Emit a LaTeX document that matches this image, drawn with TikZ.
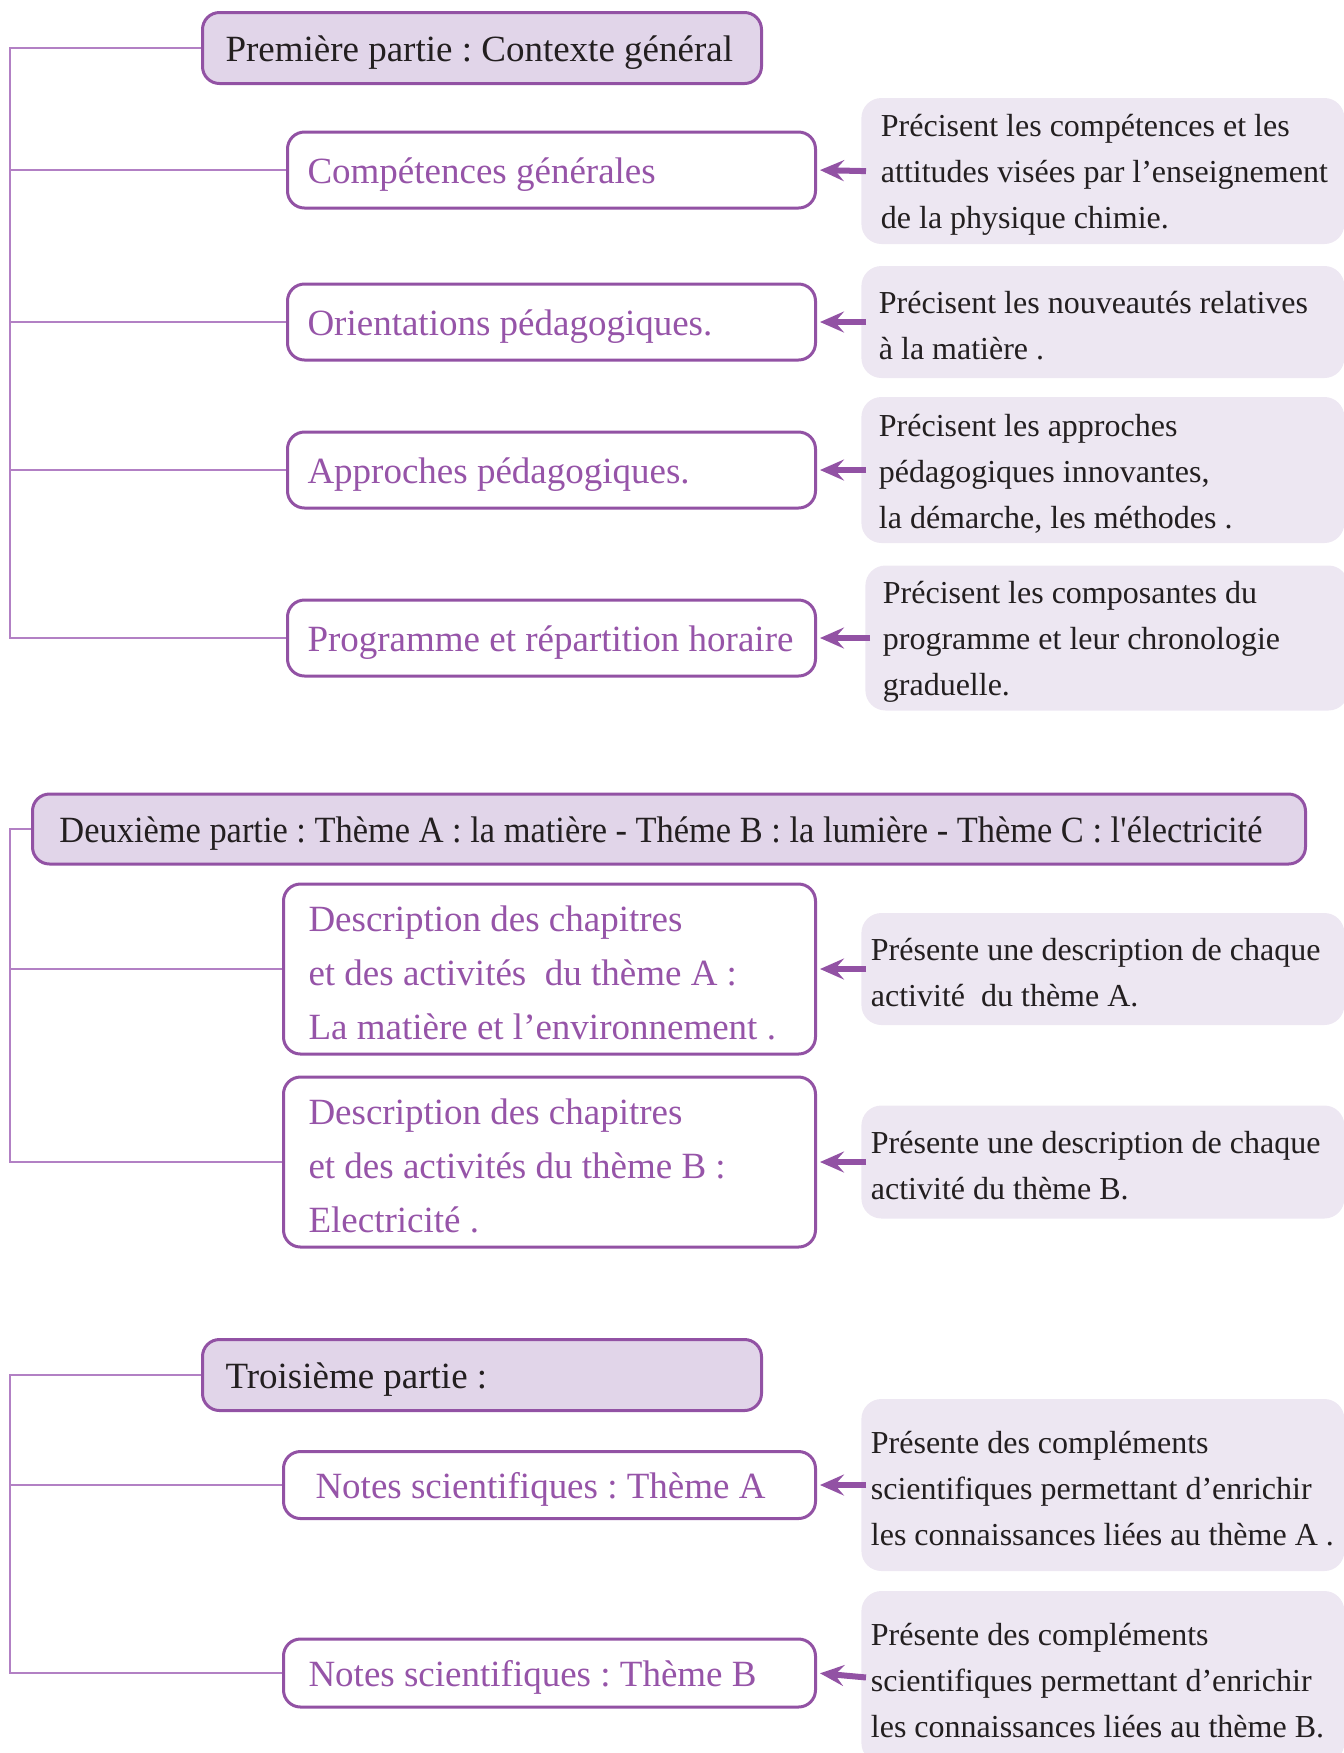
\documentclass[tikz,border=0pt]{standalone}
\usepackage{fontspec}
\setmainfont{Liberation Serif}
\newfontfamily\etroit[FakeStretch=0.93]{Liberation Serif}
\usepackage{tikz}
\usetikzlibrary{arrows.meta,positioning}

\definecolor{mauve}{RGB}{146,82,164}
\definecolor{mauvetexte}{RGB}{150,84,168}
\definecolor{mauvepale}{RGB}{178,128,196}
\definecolor{lilas}{RGB}{225,213,233}
\definecolor{grisclair}{RGB}{237,231,242}
\definecolor{encre}{RGB}{35,31,32}

\tikzset{
  every node/.style={execute at begin node={\spaceskip=0pt\xspaceskip=0pt\frenchspacing\rule{0pt}{0.93em}}},
  titre/.style={draw=mauve, line width=1.5pt, fill=lilas, rounded corners=8.5pt, anchor=west,
    inner xsep=11.5pt, text width=256.5pt, minimum height=35.5pt, align=left,
    font=\fontsize{18.5}{22}\selectfont, text=encre},
  boite/.style={draw=mauve, line width=1.5pt, fill=white, rounded corners=8.5pt, anchor=west,
    inner xsep=10pt, text width=244pt, align=left,
    font=\fontsize{18.5}{27}\selectfont, text=mauvetexte},
  note/.style={fill=grisclair, rounded corners=10pt, anchor=west, inner xsep=4.75pt,
    text width=232pt, align=left, font=\fontsize{16}{23}\selectfont, text=encre},
  fleche/.style={-{Stealth[length=12pt,width=10.5pt,inset=4.5pt]}, line width=3pt, draw=mauve,
    shorten >=1.5pt, shorten <=-2.5pt},
  tronc/.style={draw=mauvepale, line width=0.8pt}
}

\begin{document}
\begin{tikzpicture}[x=0.5pt,y=-0.5pt]
    \useasboundingbox (0,0) rectangle (1344,1753);
    \coordinate (sp) at (10,0);

    \node[titre] (p1) at (201,48) {Première partie : Contexte général};
    \node[boite, minimum height=38pt] (c1) at (286,170) {Compétences générales};
    \node[boite, minimum height=38pt] (c2) at (286,322) {Orientations pédagogiques.};
    \node[boite, minimum height=38pt] (c3) at (286,470) {Approches pédagogiques.};
    \node[boite, minimum height=38pt] (c4) at (286,638) {Programme et répartition horaire};
    \node[note, minimum height=73pt] (n1) at (861,171) {\hspace*{5pt}Précisent les compétences et les\\ \hspace*{5pt}attitudes visées par l’enseignement\\ \hspace*{5pt}de la physique chimie.};
    \node[note, minimum height=56pt] (n2) at (861,322) {\hspace*{4pt}Précisent les nouveautés relatives\\ \hspace*{4pt}à la matière .};
    \node[note, minimum height=73pt] (n3) at (861,470) {\hspace*{4pt}Précisent les approches\\ \hspace*{4pt}pédagogiques innovantes,\\ \hspace*{4pt}la démarche, les méthodes .};
    \node[note, minimum height=72.5pt] (n4) at (865,638) {\hspace*{4pt}Précisent les composantes du\\ \hspace*{4pt}programme et leur chronologie\\ \hspace*{4pt}graduelle.};
    \draw[tronc] (p1.west) -- (p1.west -| sp) -- (c4.west -| sp) -- (c4.west);
    \foreach \b in {c1,c2,c3} \draw[tronc] (\b.west -| sp) -- (\b.west);
    \foreach \i in {1,...,4} \draw[fleche] (n\i.west) -- (c\i.east);

    \node[titre, font=\etroit\fontsize{18.5}{22}\selectfont, inner xsep=13.5pt, text width=609.5pt, minimum height=35pt] (p2) at (31,829) {Deuxième partie : Thème A : la matière - Théme B : la lumière - Thème C : l\textquotesingle électricité};
    \node[boite, inner xsep=12.5pt, text width=241pt, minimum height=85pt] (d1) at (282,969) {Description des chapitres\\ et des activités~ du thème A :\\ La matière et l’environnement .};
    \node[boite, inner xsep=12.5pt, text width=241pt, minimum height=85pt] (d2) at (282,1162) {Description des chapitres\\ et des activités du thème B :\\ Electricité .};
    \node[note, minimum height=56pt] (m1) at (861,969) {Présente une description de chaque\\ activité~ du thème A.};
    \node[note, minimum height=56.5pt] (m2) at (861,1162) {Présente une description de chaque\\ activité du thème B.};
    \draw[tronc] (p2.west) -- (p2.west -| sp) -- (d2.west -| sp) -- (d2.west);
    \draw[tronc] (d1.west -| sp) -- (d1.west);
    \draw[fleche] (m1.west) -- (d1.east);
    \draw[fleche] (m2.west) -- (d2.east);

    \node[titre] (p3) at (201,1375) {Troisième partie :};
    \node[boite, inner xsep=12.5pt, text width=241pt, minimum height=33.5pt] (t1) at (282,1485) {\hspace*{3.5pt}Notes scientifiques : Thème A};
    \node[boite, inner xsep=12.5pt, text width=241pt, minimum height=34pt] (t2) at (282,1673) {Notes scientifiques : Thème B};
    \node[note, minimum height=86pt] (r1) at (861,1485) {Présente des compléments\\ scientifiques permettant d’enrichir\\ les connaissances liées au thème A .};
    \node[note, minimum height=86pt] (r2) at (861,1677) {Présente des compléments\\ scientifiques permettant d’enrichir\\ les connaissances liées au thème B.};
    \draw[tronc] (p3.west) -- (p3.west -| sp) -- (t2.west -| sp) -- (t2.west);
    \draw[tronc] (t1.west -| sp) -- (t1.west);
    \draw[fleche] (r1.west) -- (t1.east);
    \draw[fleche] (r2.west) -- (t2.east);
\end{tikzpicture}
\end{document}
